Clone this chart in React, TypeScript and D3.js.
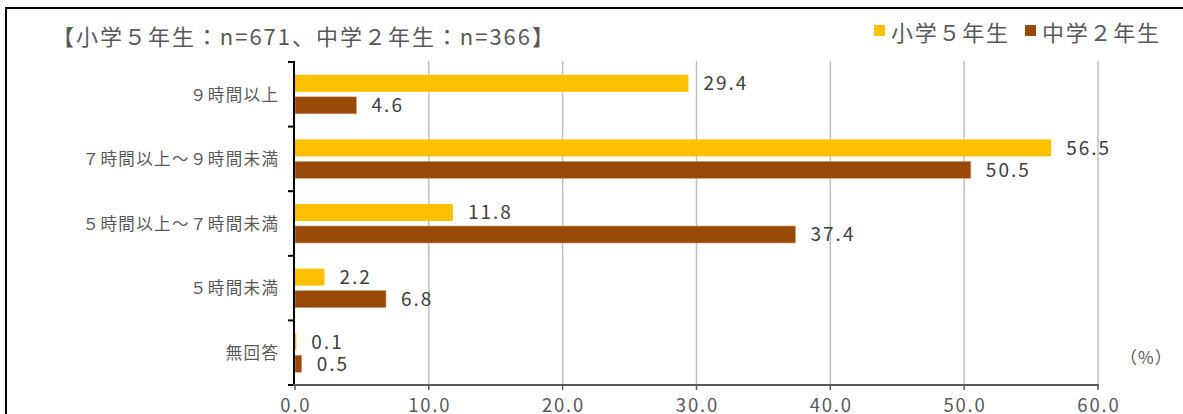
import React from "react";
import * as d3 from "d3";

const categories = ["９時間以上", "７時間以上～９時間未満", "５時間以上～７時間未満", "５時間未満", "無回答"];
const seriesNames = ["小学５年生", "中学２年生"];
const elementary = [29.4, 56.5, 11.8, 2.2, 0.1];
const junior = [4.6, 50.5, 37.4, 6.8, 0.5];
const xTicks = [0, 10, 20, 30, 40, 50, 60];
const colors = ["#FFC000", "#984807"];
const title = "【小学５年生：n=671、中学２年生：n=366】";
const unitLabel = "（%）";

const W = 1183;
const H = 414;
const FONT = "'Noto Sans CJK JP', 'Noto Sans', sans-serif";

export default function App() {
  const x = d3.scaleLinear().domain([0, 60]).range([295, 1098]);
  const y = d3.scaleBand<string>().domain(categories).range([62, 385]);
  const series = [elementary, junior];
  const barH = 17;
  const gap = 5;
  const groupH = barH * 2 + gap;
  const catLS = 1.4;
  const valLS = 2;
  const tickLS = 1.8;

  return (
    <svg
      width={W}
      height={H}
      style={{ position: "absolute", left: 0, top: 0, background: "#fff" }}
      fontFamily={FONT}
    >
      <rect x={0} y={0} width={W} height={H} fill="#fff" />
      <rect x={6} y={8} width={W + 20} height={H + 20} fill="none" stroke="#000" strokeWidth={2} />

      {/* title */}
      <text x={52} y={45} fontSize={22} fill="#595959" textLength={502} lengthAdjust="spacing">{title}</text>

      {/* legend */}
      {seriesNames.map((n, i) => {
        const lx = [874, 1025][i];
        return (
          <g key={n}>
            <rect x={lx} y={25} width={11} height={11} fill={colors[i]} />
            <text x={lx + 17} y={41} fontSize={22} fill="#595959" textLength={117} lengthAdjust="spacing">{n}</text>
          </g>
        );
      })}

      {/* grid */}
      {xTicks.filter((t) => t > 0).map((t) => (
        <line key={t} x1={x(t)} x2={x(t)} y1={61} y2={385} stroke="#BFBFBF" strokeWidth={1.5} />
      ))}

      {/* bars */}
      {categories.map((c, ci) => {
        const top = (y(c) as number) + (y.bandwidth() - groupH) / 2;
        return (
          <g key={c}>
            {series.map((s, si) => {
              const by = top + si * (barH + gap);
              const v = s[ci];
              return (
                <g key={si}>
                  <rect
                    x={x(0)}
                    y={by}
                    width={x(v) - x(0)}
                    height={barH}
                    fill={colors[si]}
                    stroke={si === 1 ? "#D9A27A" : "none"}
                    strokeWidth={si === 1 ? 0.6 : 0}
                  />
                  <text
                    x={x(v) + 15}
                    y={by + barH / 2}
                    dy="0.36em"
                    fontSize={19}
                    letterSpacing={valLS}
                    fill="#404040"
                  >
                    {v.toFixed(1)}
                  </text>
                </g>
              );
            })}
            <text
              x={278 + catLS}
              y={(y(c) as number) + y.bandwidth() / 2}
              dy="0.38em"
              textAnchor="end"
              fontSize={16.5}
              letterSpacing={catLS}
              fill="#595959"
            >
              {c}
            </text>
          </g>
        );
      })}

      {/* y axis */}
      <line x1={294} x2={294} y1={61} y2={386} stroke="#000" strokeWidth={2} />
      {[...categories.map((c) => y(c) as number), 385].map((ty, i) => (
        <line key={i} x1={288} x2={294} y1={ty} y2={ty} stroke="#000" strokeWidth={2} />
      ))}

      {/* x axis */}
      <line x1={293} x2={x(60) + 1} y1={385} y2={385} stroke="#595959" strokeWidth={2} />
      {xTicks.map((t) => (
        <g key={t}>
          <line x1={x(t)} x2={x(t)} y1={385} y2={390} stroke="#595959" strokeWidth={1.5} />
          <text
            x={x(t) + tickLS / 2}
            y={405}
            dy="0.36em"
            textAnchor="middle"
            fontSize={18.5}
            letterSpacing={tickLS}
            fill="#595959"
          >
            {t.toFixed(1)}
          </text>
        </g>
      ))}

      <text x={1120} y={358} dy="0.36em" fontSize={17} letterSpacing={1} fill="#595959">{unitLabel}</text>
    </svg>
  );
}
